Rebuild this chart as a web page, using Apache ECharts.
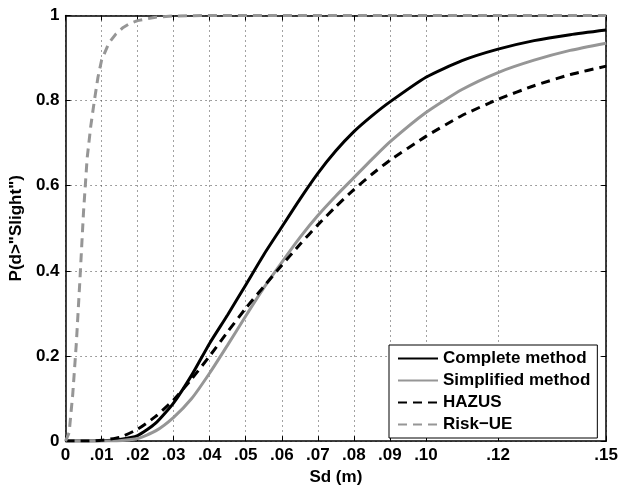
<!DOCTYPE html>
<html>
<head>
<meta charset="utf-8">
<script src="https://cdn.jsdelivr.net/npm/echarts@6/dist/echarts.min.js"></script>
<style>
html,body{margin:0;padding:0;background:#fff;}
#chart{width:621px;height:491px;}
</style>
</head>
<body>
<div id="chart"></div>
<script>
// ---- data ----
const sd = [0, 0.005, 0.01, 0.015, 0.02, 0.025, 0.03, 0.035, 0.04, 0.045, 0.05, 0.055, 0.06, 0.065, 0.07, 0.075, 0.08, 0.085, 0.09, 0.10, 0.11, 0.12, 0.13, 0.14, 0.15];
const completeMethod = [0, 0, 0.001, 0.004, 0.013, 0.042, 0.09, 0.155, 0.23, 0.297, 0.367, 0.438, 0.503, 0.568, 0.629, 0.682, 0.727, 0.764, 0.797, 0.855, 0.894, 0.921, 0.941, 0.955, 0.966];
const simplifiedMethod = [0, 0, 0, 0.001, 0.006, 0.024, 0.056, 0.10, 0.16, 0.226, 0.294, 0.36, 0.42, 0.478, 0.530, 0.576, 0.619, 0.662, 0.703, 0.772, 0.826, 0.866, 0.895, 0.918, 0.935];
const hazus = [0, 0, 0.002, 0.009, 0.028, 0.058, 0.097, 0.146, 0.20, 0.257, 0.312, 0.363, 0.413, 0.462, 0.508, 0.551, 0.591, 0.627, 0.66, 0.716, 0.765, 0.803, 0.835, 0.861, 0.881];
const riskSd = [0, 0.001, 0.002, 0.003, 0.004, 0.005, 0.006, 0.007, 0.008, 0.009, 0.010, 0.012, 0.014, 0.016, 0.018, 0.020, 0.025, 0.030, 0.04, 0.15];
const riskUE = [0, 0.02, 0.11, 0.23, 0.38, 0.54, 0.665, 0.74, 0.80, 0.855, 0.895, 0.935, 0.957, 0.972, 0.982, 0.988, 0.996, 0.999, 1, 1];

const xTickValues = [0, 0.01, 0.02, 0.03, 0.04, 0.05, 0.06, 0.07, 0.08, 0.09, 0.10, 0.12, 0.15];
const xTickLabels = ['0', '.01', '.02', '.03', '.04', '.05', '.06', '.07', '.08', '.09', '.10', '.12', '.15'];
const yTickLabels = ['0', '0.2', '0.4', '0.6', '0.8', '1'];
const seriesNames = ['Complete method', 'Simplified method', 'HAZUS', 'Risk\u2212UE'];

// ---- chart ----
const FONT = '"Liberation Sans", Arial, Helvetica, sans-serif';
const GREY = '#969696';
const pairs = (xs, ys) => xs.map((x, i) => [x, ys[i]]);
function xLabel(v) {
  const i = xTickValues.findIndex(t => Math.abs(t - v) < 1e-9);
  return i >= 0 ? xTickLabels[i] : '';
}
function yLabel(v) {
  const i = Math.round(v / 0.2);
  return yTickLabels[i] !== undefined ? yTickLabels[i] : '';
}
const gridDots = { show: true, lineStyle: { color: '#444', width: 1, type: [1, 4] } };
const axisLineStyle = { show: true, onZero: false, lineStyle: { color: '#000', width: 1.5 } };
const labelStyle = { fontFamily: FONT, fontWeight: 'bold', fontSize: 17, color: '#000' };

const chart = echarts.init(document.getElementById('chart'), null, { renderer: 'canvas' });
chart.setOption({
  backgroundColor: '#fff',
  animation: false,
  grid: { left: 63, right: 10, top: 15.5, bottom: 43.5, containLabel: false },
  xAxis: [{
    type: 'value', min: 0, max: 0.15, position: 'bottom',
    name: 'Sd (m)', nameLocation: 'middle', nameGap: 25,
    nameTextStyle: labelStyle,
    axisLine: axisLineStyle,
    axisTick: { show: true, inside: true, length: 5, customValues: xTickValues, lineStyle: { color: '#000', width: 1 } },
    axisLabel: Object.assign({ margin: 6, customValues: xTickValues, formatter: xLabel, showMaxLabel: true, showMinLabel: true }, labelStyle),
    splitLine: gridDots
  }, {
    type: 'value', min: 0, max: 0.15, position: 'top',
    axisLine: axisLineStyle,
    axisTick: { show: true, inside: true, length: 5, customValues: xTickValues, lineStyle: { color: '#000', width: 1 } },
    axisLabel: { show: false },
    splitLine: { show: false }
  }],
  yAxis: [{
    type: 'value', min: 0, max: 1, interval: 0.2, position: 'left',
    name: 'P(d>"Slight")', nameLocation: 'middle', nameGap: 34, nameRotate: 90,
    nameTextStyle: labelStyle,
    axisLine: axisLineStyle,
    axisTick: { show: true, inside: true, length: 5, lineStyle: { color: '#000', width: 1 } },
    axisLabel: Object.assign({ margin: 6, formatter: yLabel }, labelStyle),
    splitLine: gridDots
  }, {
    type: 'value', min: 0, max: 1, interval: 0.2, position: 'right',
    axisLine: axisLineStyle,
    axisTick: { show: true, inside: true, length: 5, lineStyle: { color: '#000', width: 1 } },
    axisLabel: { show: false },
    splitLine: { show: false }
  }],
  legend: {
    orient: 'vertical', left: 389, top: 345,
    backgroundColor: '#fff', borderColor: '#000', borderWidth: 1,
    padding: [5, 7, 5, 8], itemGap: 5, itemWidth: 40, itemHeight: 14,
    itemStyle: { opacity: 0 },
    textStyle: { fontFamily: FONT, fontWeight: 'bold', fontSize: 17, color: '#000', lineHeight: 17 },
    data: seriesNames
  },
  series: [{
    name: seriesNames[0], type: 'line', symbol: 'none', smooth: 0.2,
    data: pairs(sd, completeMethod), color: '#000',
    lineStyle: { color: '#000', width: 3 }
  }, {
    name: seriesNames[1], type: 'line', symbol: 'none', smooth: 0.2,
    data: pairs(sd, simplifiedMethod), color: GREY,
    lineStyle: { color: GREY, width: 3 }
  }, {
    name: seriesNames[2], type: 'line', symbol: 'none', smooth: 0.2,
    data: pairs(sd, hazus), color: '#000',
    lineStyle: { color: '#000', width: 3, type: [9, 6] }
  }, {
    name: seriesNames[3], type: 'line', symbol: 'none', smooth: false, clip: false,
    data: pairs(riskSd, riskUE), color: GREY,
    lineStyle: { color: GREY, width: 3, type: [9, 6] }
  }]
});
</script>
</body>
</html>
